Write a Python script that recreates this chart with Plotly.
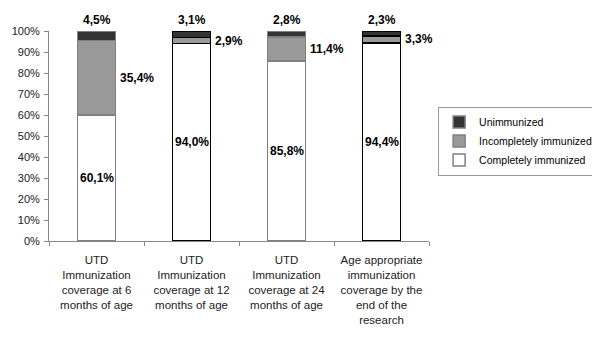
import plotly.graph_objects as go

categories = [
    "UTD<br>Immunization<br>coverage at 6<br>months of age",
    "UTD<br>Immunization<br>coverage at 12<br>months of age",
    "UTD<br>Immunization<br>coverage at 24<br>months of age",
    "Age appropriate<br>immunization<br>coverage by the<br>end of the<br>research",
]
completely = [60.1, 94.0, 85.8, 94.4]
incompletely = [35.4, 2.9, 11.4, 3.3]
unimmunized = [4.5, 3.1, 2.8, 2.3]

outline = ["#808080", "#000000", "#808080", "#000000"]

def fmt(v):
    return f"{v:.1f}".replace(".", ",") + "%"

fig = go.Figure()
fig.add_bar(x=categories, y=completely, name="Completely immunized",
            marker=dict(color="#ffffff", line=dict(color=outline, width=1.5)), width=0.4)
fig.add_bar(x=categories, y=incompletely, name="Incompletely immunized",
            marker=dict(color="#999999", line=dict(color=outline, width=1.5)), width=0.4)
fig.add_bar(x=categories, y=unimmunized, name="Unimmunized",
            marker=dict(color="#333333", line=dict(color=outline, width=1.5)), width=0.4)

lab_font = dict(family="Liberation Sans, Arial", size=12, color="#000000")
for i, c in enumerate(categories):
    fig.add_annotation(x=i, y=completely[i] / 2, xref="x", yref="y", text="<b>" + fmt(completely[i]) + "</b>",
                       showarrow=False, font=lab_font, xanchor="center", yanchor="middle")
    fig.add_annotation(x=i + 0.2, y=completely[i] + incompletely[i] / 2, xref="x", yref="y",
                       text="<b>" + fmt(incompletely[i]) + "</b>", showarrow=False, font=lab_font,
                       xanchor="left", yanchor="middle", xshift=2)
    fig.add_annotation(x=i, y=completely[i] + incompletely[i] + unimmunized[i], xref="x", yref="y",
                       text="<b>" + fmt(unimmunized[i]) + "</b>", showarrow=False, font=lab_font,
                       xanchor="center", yanchor="bottom", yshift=2)

fig.update_layout(
    barmode="stack",
    width=584, height=325,
    margin=dict(l=41, r=163, t=23, b=92, autoexpand=False),
    plot_bgcolor="#ffffff", paper_bgcolor="#ffffff",
    font=dict(family="Liberation Sans, Arial", size=11, color="#000000"),
    showlegend=True,
    legend=dict(x=1.024, y=0.64, xanchor="left", yanchor="top", traceorder="reversed",
                bordercolor="#999999", borderwidth=1, font=dict(size=10.5),
                itemwidth=30, tracegroupgap=0, bgcolor="#ffffff"),
    bargap=0.6,
)
fig.update_xaxes(showline=True, linecolor="#888888", linewidth=1, ticks="outside", ticklen=4,
                 tickcolor="#888888", tickson="boundaries", range=[-0.5, 3.5], showgrid=False,
                 tickfont=dict(size=11.5, color="#222222"), tickangle=0, automargin=False,
                 ticklabelstandoff=8)
fig.update_yaxes(range=[0, 100], dtick=10, ticksuffix="%", showline=True, linecolor="#888888",
                 linewidth=1, ticks="outside", ticklen=4, tickcolor="#888888", showgrid=False,
                 zeroline=False, tickfont=dict(size=11, color="#222222"), automargin=False,
                 ticklabelstandoff=2)

fig.write_html("out.html")
